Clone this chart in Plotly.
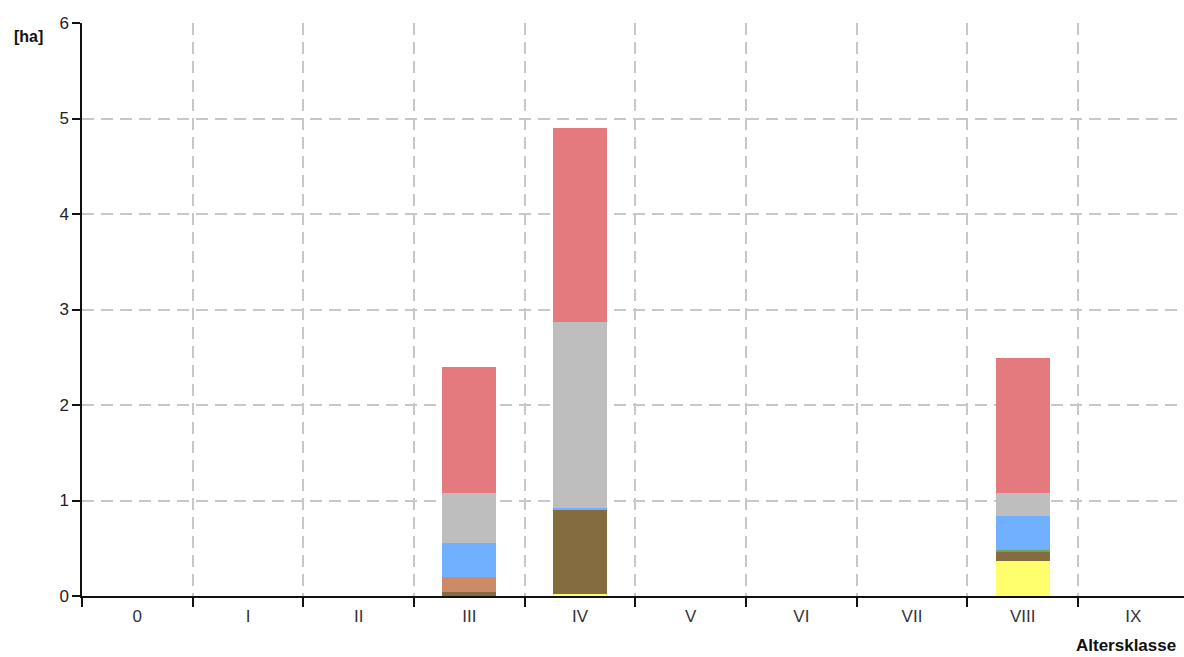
import plotly.graph_objects as go

categories = ["0", "I", "II", "III", "IV", "V", "VI", "VII", "VIII", "IX"]

# stacked segment heights [ha], bottom to top
yellow = [0, 0, 0, 0, 0.02, 0, 0, 0, 0.37, 0]
brown = [0, 0, 0, 0.045, 0.89, 0, 0, 0, 0.10, 0]
orange = [0, 0, 0, 0.15, 0, 0, 0, 0, 0, 0]
green = [0, 0, 0, 0, 0, 0, 0, 0, 0.01, 0]
blue = [0, 0, 0, 0.36, 0.015, 0, 0, 0, 0.36, 0]
grey = [0, 0, 0, 0.525, 1.94, 0, 0, 0, 0.235, 0]
red = [0, 0, 0, 1.32, 2.04, 0, 0, 0, 1.42, 0]

series = [
    ("Gelb", yellow, "#FFFF6E"),
    ("Braun", brown, "#846C40"),
    ("Orange", orange, "#CD8A67"),
    ("Grün", green, "#6CA45A"),
    ("Blau", blue, "#70B0FF"),
    ("Grau", grey, "#BEBEBE"),
    ("Rot", red, "#E57A7E"),
]

y_ticks = [0, 1, 2, 3, 4, 5, 6]

fig = go.Figure()
for name, vals, col in series:
    fig.add_trace(go.Bar(x=categories, y=vals, name=name,
                         marker=dict(color=col, line=dict(width=0)),
                         showlegend=False))

fig.update_layout(
    barmode="stack",
    bargap=0.51,
    width=1184, height=657,
    margin=dict(l=82, r=0, t=23, b=61),
    plot_bgcolor="white", paper_bgcolor="white",
    font=dict(family="Liberation Sans, Arial, sans-serif", size=16, color="#222"),
    xaxis=dict(
        type="category",
        range=[-0.5, 9.458],
        tickson="boundaries",
        ticks="outside", ticklen=9, tickwidth=2, tickcolor="#111",
        showline=True, linecolor="#111", linewidth=2,
        showgrid=True, gridcolor="#c8c8c8", gridwidth=1.5, griddash="12px,7px",
        tickfont=dict(size=17, color="#333"),
        ticklabelstandoff=4,
    ),
    yaxis=dict(
        range=[0, 6],
        tickvals=y_ticks,
        ticks="outside", ticklen=8, tickwidth=2, tickcolor="#111",
        showline=True, linecolor="#111", linewidth=1.5,
        showgrid=True, gridcolor="#c8c8c8", gridwidth=1.5, griddash="12px,7px",
        zeroline=False,
        tickfont=dict(size=17, color="#222"),
    ),
    annotations=[
        dict(text="<b>[ha]</b>", xref="paper", yref="paper",
             x=-0.049, y=0.9756, xanchor="center", yanchor="middle",
             showarrow=False, font=dict(size=16, color="#111")),
        dict(text="<b>Altersklasse</b>", xref="paper", yref="paper",
             x=0.995, y=-0.087, xanchor="right", yanchor="middle",
             showarrow=False, font=dict(size=17, color="#111")),
    ],
)

fig.write_html(
    "out.html",
    config={"displayModeBar": False},
    post_script="document.body.style.margin='0';document.body.style.overflow='hidden';",
)
